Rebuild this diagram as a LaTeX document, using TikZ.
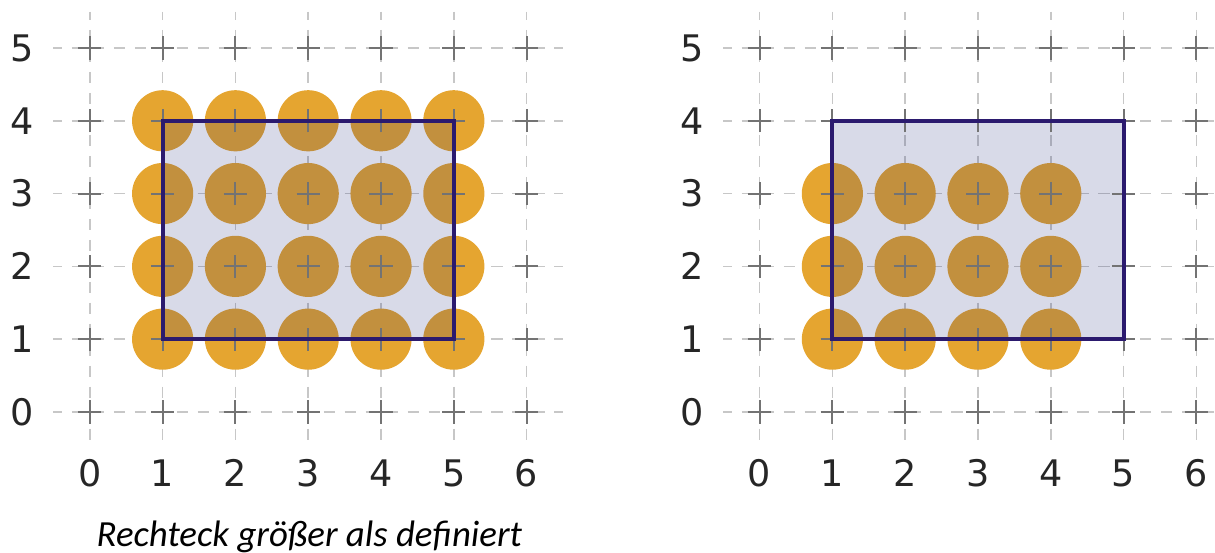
\documentclass[tikz,border=0pt]{standalone}
\usepackage{fontspec}
\setmainfont{DejaVu Sans}
\newfontfamily\capfont{Carlito}
\definecolor{dotcol}{HTML}{E5A530}
\definecolor{rectcol}{HTML}{2B1A6E}
\definecolor{rectfillcol}{HTML}{283280}
\begin{document}
\begin{tikzpicture}[x=1cm,y=1cm,
  gridline/.style={draw=black!22, line width=0.6pt, dash pattern=on 4.4pt off 3.8pt, dash phase=1pt},
  plusmark/.style={draw=black!55, line width=0.75pt},
  dot/.style={fill=dotcol, draw=none},
  rectfill/.style={fill=rectfillcol, fill opacity=0.18, draw=none},
  rectline/.style={draw=rectcol, line width=1.5pt, line join=miter},
  ticklab/.style={text=black!85, font=\fontsize{14.3}{16}\selectfont, inner sep=0pt},
  caption/.style={font=\capfont\itshape\fontsize{14.4}{17}\selectfont, text=black, inner sep=0pt}
]
\useasboundingbox (-1.234,-1.937) rectangle (15.456,5.659);
\clip (-1.234,-1.937) rectangle (15.456,5.659);
% ---------- panels ----------
\foreach \ox/\nx/\ny/\pn in {0/5/4/L, 9.2/4/3/R} {
  \begin{scope}[xshift=\ox cm]
    % grid
    \foreach \i in {0,...,6}
      \draw[gridline] (\i,5.5) -- (\i,-0.5);
    \foreach \j in {0,...,5}
      \draw[gridline] (-0.5,\j) -- (6.5,\j);
    % dots
    \foreach \i in {1,...,\nx}
      \foreach \j in {1,...,\ny}
        \fill[dot] (\i,\j) circle (0.42);
    % rectangle fill
    \fill[rectfill] (1,1) rectangle (5,4);
    % plus markers
    \foreach \i in {0,...,6}
      \foreach \j in {0,...,5}
        \draw[plusmark] (\i-0.16,\j) -- (\i+0.16,\j) (\i,\j-0.16) -- (\i,\j+0.16);
    % rectangle outline
    \draw[rectline] (1,1) rectangle (5,4);
    % tick labels
    \foreach \i in {0,...,6}
      \node[ticklab] (xt\pn\i) at (\i,-0.84) {\i};
    \foreach \j in {0,...,5}
      \node[ticklab, anchor=east] (yt\pn\j) at (-0.76,\j) {\j};
  \end{scope}
}
\node[caption, anchor=base] (cap) at (3.015,-1.854) {Rechteck größer als definiert};
\end{tikzpicture}
\end{document}
